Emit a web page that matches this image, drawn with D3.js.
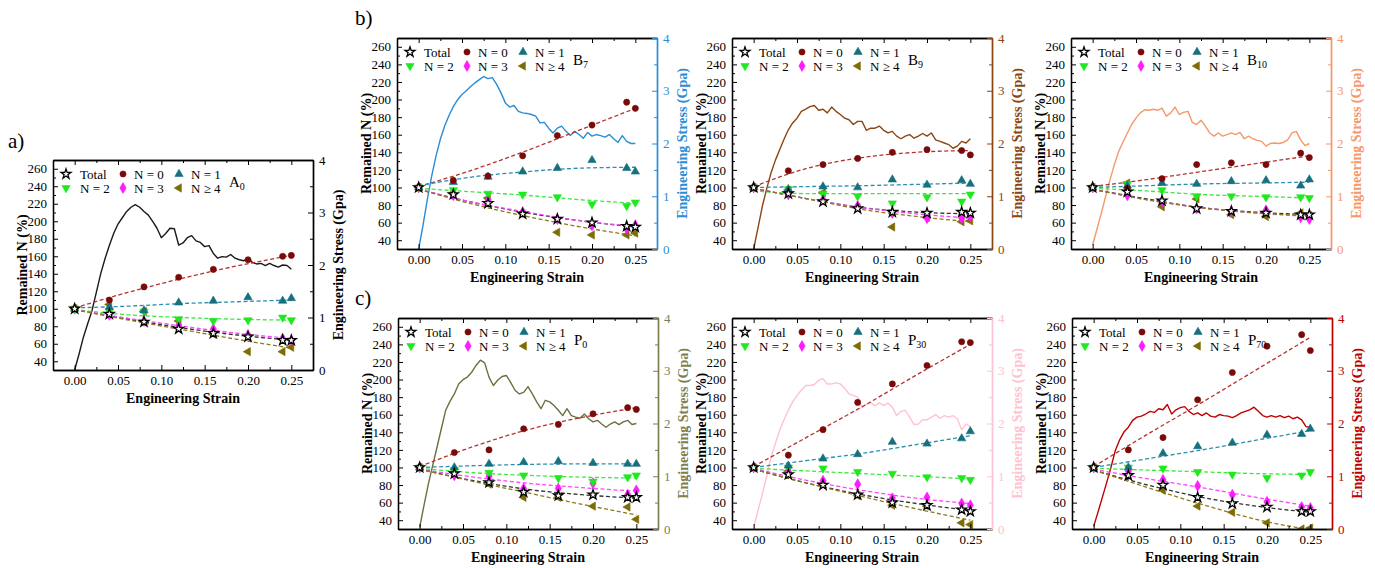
<!DOCTYPE html>
<html><head><meta charset="utf-8">
<script src="https://cdn.jsdelivr.net/npm/d3@7"></script>
<style>
html,body{margin:0;padding:0;background:#fff;}
svg, svg text{font-family:"Liberation Serif","Times New Roman",Tinos,"DejaVu Serif",serif !important;}
</style></head><body>
<svg id="chart" width="1375" height="568"></svg>
<script>
// ---------- shared categories / ticks ----------
const seriesNames = ["Total","N = 0","N = 1","N = 2","N = 3","N \u2265 4"];
const strainPts = [0,0.04,0.08,0.12,0.16,0.20,0.24,0.25];
const fitStrain = [0,0.0625,0.125,0.1875,0.25];
const stressStrain = [0,0.005,0.01,0.015,0.02,0.025,0.03,0.035,0.04,0.045,0.05,0.055,0.06,0.065,0.07,0.075,0.08,0.085,0.09,0.095,0.10,0.105,0.11,0.115,0.12,0.125,0.13,0.135,0.14,0.145,0.15,0.155,0.16,0.165,0.17,0.175,0.18,0.185,0.19,0.195,0.20,0.205,0.21,0.215,0.22,0.225,0.23,0.235,0.24,0.245,0.25];
const xTicks = [0,0.05,0.10,0.15,0.20,0.25];
const xMinor = [0.025,0.075,0.125,0.175,0.225];
const leftTicks = [40,60,80,100,120,140,160,180,200,220,240,260];
const leftMinor = [30,50,70,90,110,130,150,170,190,210,230,250];
const rightTicks = [0,1,2,3,4];
const rightMinor = [0.5,1.5,2.5,3.5];

// ---------- A0 ----------
const A0_pts = [
 [100,94,85,77,72,68,64,64],
 [100,110,125,136,145,156,160,161],
 [100,102,98,107,109,113,109,112],
 [100,97,97,88,86,87,90,87],
 [100,93,86,81,77,70,66,64],
 [100,105,97,86,71,51,51,56]];
const A0_fit = [
 [99,88,78,70,64],[101,119,135,149,161],[101,103,106,108,110],
 [99,93,90,88,87],[99,89,80,72,66],[99,87,76,65,55]];
const A0_stress = [0,0.3,0.62,0.88,1.13,1.48,1.83,2.12,2.37,2.6,2.78,2.9,3.02,3.1,3.15,3.1,3.02,2.95,2.83,2.7,2.52,2.6,2.7,2.69,2.38,2.42,2.52,2.56,2.46,2.43,2.35,2.37,2.22,2.13,2.16,2.15,2.2,2.13,2.1,2.08,2.13,2.05,2.02,2.03,1.99,2.03,1.99,1.96,2.0,1.99,1.92];

// ---------- B7 ----------
const B7_pts = [
 [100,92,82,70,64,60,56,55],
 [100,108,113,136,159,171,197,190],
 [100,106,112,118,122,131,122,118],
 [100,97,93,92,89,81,79,83],
 [100,91,86,72,64,57,53,57],
 [100,94,88,70,49,46,46,48]];
const B7_fit = [
 [98,83,71,62,55],[101,120,142,166,190],[102,112,118,122,123],
 [99,95,91,86,82],[98,83,72,62,56],[98,81,67,55,45]];
const B7_stress = [0,0.45,0.94,1.38,1.76,2.08,2.33,2.53,2.7,2.83,2.93,3.0,3.08,3.15,3.21,3.27,3.23,3.25,3.12,2.96,2.77,2.69,2.72,2.61,2.58,2.57,2.55,2.52,2.39,2.4,2.29,2.2,2.29,2.33,2.23,2.15,2.23,2.17,2.1,2.21,2.14,2.17,2.15,2.12,2.17,2.09,2.02,2.15,2.04,2.0,2.0];

// ---------- B9 ----------
const B9_pts = [
 [100,93,84,76,72,71,72,71],
 [100,119,126,133,140,143,142,137],
 [100,98,101,100,109,103,108,104],
 [100,98,93,90,82,89,84,92],
 [100,92,86,79,71,65,65,67],
 [100,97,94,77,55,66,61,62]];
const B9_fit = [
 [99,87,77,72,70],[101,122,134,140,142],[100,101,102,103.5,105],
 [96,93,93,93,93],[99,87,77,70,65],[99,87,75,67,61]];
const B9_stress = [0,0.4,0.81,1.14,1.44,1.68,1.88,2.08,2.26,2.39,2.48,2.61,2.65,2.7,2.72,2.63,2.65,2.58,2.69,2.61,2.55,2.48,2.45,2.36,2.42,2.42,2.25,2.29,2.29,2.33,2.25,2.2,2.23,2.14,2.09,2.14,2.17,2.1,2.14,2.19,2.14,2.2,2.07,2.04,2.01,1.98,1.91,1.95,2.04,2.01,2.09];

// ---------- B10 ----------
const B10_pts = [
 [100,95,85,76,73,71,69,69],
 [100,99,110,126,128,126,139,134],
 [100,102,105,104,107,108,102,109],
 [100,104,97,90,90,89,89,88],
 [100,91,84,76,73,74,66,64],
 [100,105,78,87,69,67,71,68]];
const B10_fit = [
 [98,87,77,72,69],[101,109,118,127,136],[100,102,104,105,106],
 [99,96,92,90,88],[98,86,77,71,67],[98,86,77,71,68]];
const B10_stress = [0.08,0.38,0.68,1.0,1.31,1.6,1.85,2.03,2.2,2.36,2.48,2.58,2.64,2.63,2.65,2.63,2.67,2.52,2.58,2.69,2.55,2.59,2.61,2.4,2.36,2.44,2.33,2.2,2.14,2.2,2.14,2.17,2.2,2.17,2.21,2.09,2.14,2.09,2.06,2.04,1.95,2.0,2.01,2.0,2.02,2.07,2.2,2.23,2.07,1.96,2.0];

// ---------- P0 ----------
const P0_pts = [
 [100,93,83,72,68,69,66,66],
 [100,117,120,144,149,161,168,166],
 [100,100,104,106,107,105,104,104],
 [100,97,94,91,88,84,89,91],
 [100,91,90,76,76,82,69,74],
 [100,95,81,66,66,56,55,41]];
const P0_fit = [
 [98,85,75,69,65],[101,124,143,157,168],[100,102,103.5,104,104],
 [99,94,91,89,88],[98,89,82,77,73],[98,84,71,58,46]];
const P0_stress = [0.03,0.45,0.85,1.2,1.55,1.9,2.25,2.42,2.56,2.75,2.83,2.88,2.97,3.1,3.2,3.15,2.88,2.72,2.82,2.89,2.91,2.78,2.63,2.56,2.59,2.7,2.56,2.41,2.28,2.44,2.41,2.34,2.25,2.15,2.28,2.15,2.12,2.1,2.18,2.09,2.03,2.06,1.99,1.93,1.99,2.03,1.98,2.03,2.06,1.98,2.0];

// ---------- P30 ----------
const P30_pts = [
 [100,92,80,69,60,57,52,50],
 [100,114,143,174,195,216,243,242],
 [100,102,110,115,129,127,133,141],
 [100,100,99,95,93,89,88,86],
 [100,95,85,81,65,66,59,57],
 [100,96,81,68,57,56,37,35]];
const P30_fit = [
 [98,82,69,59,51],[101,135,169,205,240],[100,108,116,126,136],
 [99,96,93,90,87],[99,85,74,65,59],[98,82,67,53,40]];
const P30_stress = [0.03,0.35,0.66,1.0,1.36,1.62,1.87,2.07,2.25,2.41,2.53,2.63,2.72,2.72,2.74,2.82,2.85,2.75,2.75,2.77,2.75,2.67,2.56,2.53,2.5,2.3,2.36,2.39,2.34,2.39,2.34,2.39,2.31,2.15,2.23,2.25,2.12,1.98,1.99,2.07,2.07,2.12,2.17,2.1,2.15,2.12,2.15,2.09,1.88,1.99,1.94];

// ---------- P70 ----------
const P70_pts = [
 [100,91,80,66,59,55,50,50],
 [100,120,134,177,208,238,251,233],
 [100,100,116,124,128,137,138,144],
 [100,100,99,95,92,88,91,95],
 [100,96,86,79,69,61,55,54],
 [100,91,74,56,49,37,30,31]];
const P70_fit = [
 [97,80,66,56,49],[101,138,174,211,248],[100,110,120,131,142],
 [99,97,95,93,92],[98,87,77,66,56],[97,77,58,41,29]];
const P70_stress = [0.05,0.32,0.6,0.88,1.17,1.49,1.69,1.84,1.93,2.06,2.12,2.14,2.18,2.23,2.21,2.28,2.26,2.36,2.18,2.26,2.3,2.32,2.23,2.17,2.2,2.15,2.2,2.14,2.12,2.17,2.15,2.14,2.11,2.15,2.2,2.23,2.26,2.31,2.23,2.15,2.12,2.15,2.12,2.15,2.11,2.14,2.09,2.12,2.07,1.94,1.93];

// ---------- styling / layout ----------
const FONT = '"Liberation Serif","Times New Roman",Tinos,"DejaVu Serif",serif';
const markerFill = ["#ffffff","#7a0a0a","#16707e","#1fe81f","#ff1aff","#7d6b05"];
const markerStroke = ["#000000","#7a0a0a","#16707e","#1fe81f","#ff1aff","#7d6b05"];
const fitColor = ["#333333","#b5332e","#2a8fae","#3de83d","#ff44ff","#8c7a1c"];
const W = 260, H = 211;

const panels = [
 {base:"A",sub:"0", pts:A0_pts, fit:A0_fit, stress:A0_stress, x:53, y:160, h:210, color:"#1a1a1a", axis:"#000000"},
 {base:"B",sub:"7", pts:B7_pts, fit:B7_fit, stress:B7_stress, x:397, y:38, h:211, color:"#2a8dd6", axis:"#2a8dd6"},
 {base:"B",sub:"9", pts:B9_pts, fit:B9_fit, stress:B9_stress, x:732, y:38, h:211, color:"#8b4513", axis:"#8b4513"},
 {base:"B",sub:"10", pts:B10_pts, fit:B10_fit, stress:B10_stress, x:1071, y:38, h:211, color:"#f5986a", axis:"#f5986a"},
 {base:"P",sub:"0", pts:P0_pts, fit:P0_fit, stress:P0_stress, x:398, y:318, h:211, color:"#6e6f40", axis:"#7e7f50"},
 {base:"P",sub:"30", pts:P30_pts, fit:P30_fit, stress:P30_stress, x:732, y:318, h:211, color:"#ffc2d0", axis:"#ffc2d0"},
 {base:"P",sub:"70", pts:P70_pts, fit:P70_fit, stress:P70_stress, x:1072, y:318, h:211, color:"#c00000", axis:"#c00000"}
];

const svg = d3.select("#chart");
svg.append("rect").attr("width",1375).attr("height",568).attr("fill","#fff");

function symbolFor(i){
  const S = [d3.symbolStar, d3.symbolCircle, d3.symbolTriangle, d3.symbolTriangle, d3.symbolDiamond, d3.symbolTriangle];
  const sz = [30, 30, 30, 30, 34, 30];
  return d3.symbol().type(S[i]).size(sz[i])();
}
const rot = [0,0,0,180,0,-90];

function drawMarker(sel, i, cx, cy){
  sel.append("path").attr("d", symbolFor(i))
    .attr("transform", `translate(${cx},${cy}) rotate(${rot[i]})`)
    .attr("fill", markerFill[i]).attr("stroke", markerStroke[i])
    .attr("stroke-width", i===0 ? 1.3 : 0.6);
}

panels.forEach((p, pi) => {
  const h = p.h;
  const g = svg.append("g").attr("transform", `translate(${p.x},${p.y})`);
  const x = d3.scaleLinear().domain([-0.025,0.275]).range([0,W]);
  const yL = d3.scaleLinear().domain([30,270]).range([h,0]);
  const yR = d3.scaleLinear().domain([0,4]).range([h,0]);

  const cid = "clip"+pi;
  g.append("clipPath").attr("id",cid).append("rect").attr("width",W).attr("height",h);
  const plot = g.append("g").attr("clip-path",`url(#${cid})`);

  plot.append("path")
    .datum(stressStrain.map((s,k)=>[s,p.stress[k]]))
    .attr("fill","none").attr("stroke",p.color).attr("stroke-width",1.4)
    .attr("stroke-linejoin","round")
    .attr("d", d3.line().x(d=>x(d[0])).y(d=>yR(d[1])));

  p.fit.forEach((f,i) => {
    plot.append("path")
      .datum(fitStrain.map((s,k)=>[s,f[k]]))
      .attr("fill","none").attr("stroke",fitColor[i]).attr("stroke-width",1.3)
      .attr("stroke-dasharray","4,2.5")
      .attr("d", d3.line().curve(d3.curveMonotoneX).x(d=>x(d[0])).y(d=>yL(d[1])));
  });

  [5,4,3,2,1,0].forEach(i => {
    p.pts[i].forEach((v,k) => {
      if (v < 28) return;
      drawMarker(plot, i, x(strainPts[k]), yL(v));
    });
  });

  g.append("g").attr("transform",`translate(0,${h})`)
    .call(d3.axisBottom(x).tickValues(xTicks).tickSizeInner(-5).tickSizeOuter(0).tickPadding(6).tickFormat(d3.format(".2f")));
  g.append("g").attr("transform",`translate(0,${h})`)
    .call(d3.axisBottom(x).tickValues(xMinor).tickSizeInner(-3).tickSizeOuter(0).tickFormat(""));
  g.append("g")
    .call(d3.axisTop(x).tickValues(xTicks).tickSizeInner(-5).tickSizeOuter(0).tickFormat(""));
  g.append("g").call(d3.axisTop(x).tickValues(xMinor).tickSizeInner(-3).tickSizeOuter(0).tickFormat(""));
  g.append("g")
    .call(d3.axisLeft(yL).tickValues(leftTicks).tickSizeInner(-5).tickSizeOuter(0).tickPadding(6));
  g.append("g").call(d3.axisLeft(yL).tickValues(leftMinor).tickSizeInner(-3).tickSizeOuter(0).tickFormat(""));
  const axR = g.append("g").attr("transform",`translate(${W},0)`)
    .call(d3.axisRight(yR).tickValues(rightTicks).tickSizeInner(-5).tickSizeOuter(0).tickPadding(6).tickFormat(d3.format("d")));
  const axRm = g.append("g").attr("transform",`translate(${W},0)`)
    .call(d3.axisRight(yR).tickValues(rightMinor).tickSizeInner(-3).tickSizeOuter(0).tickFormat(""));

  g.selectAll("g").attr("font-family",null);
  g.selectAll(".domain").attr("stroke","#000").attr("stroke-width",1.3);
  g.selectAll(".tick line").attr("stroke","#000").attr("stroke-width",1);
  g.selectAll("text").attr("font-size","13px").attr("fill","#000");
  [axR, axRm].forEach(a => {
    a.select(".domain").attr("stroke",p.axis).attr("stroke-width",1.4);
    a.selectAll(".tick line").attr("stroke",p.axis);
    a.selectAll("text").attr("fill",p.axis);
  });

  g.append("text").attr("transform",`translate(-31,${h/2}) rotate(-90)`)
    .attr("text-anchor","middle").attr("dy","0.35em")
    .attr("font-size","14px").attr("font-weight","bold").text("Remained N (%)");
  g.append("text").attr("transform",`translate(${W+25},${h/2}) rotate(-90)`)
    .attr("text-anchor","middle").attr("dy","0.35em").attr("fill",p.axis)
    .attr("font-size","14px").attr("font-weight","bold").text("Engineering Stress (Gpa)");
  g.append("text").attr("x",W/2).attr("y",h+33)
    .attr("text-anchor","middle").attr("font-size","14px").attr("font-weight","bold").text("Engineering Strain");

  const mx = [13,70,126], tx = [27,81,138], ry = [14,28];
  seriesNames.forEach((n,i) => {
    const c = i%3, r = Math.floor(i/3);
    drawMarker(g, i, mx[c], ry[r]);
    g.append("text").attr("x",tx[c]).attr("y",ry[r]).attr("dy","0.35em")
      .attr("font-size","13px").text(n);
  });
  const lbl = g.append("text").attr("x",176).attr("y",27).attr("font-size","15px");
  lbl.append("tspan").text(p.base);
  lbl.append("tspan").attr("dy",3).attr("font-size","10px").text(p.sub);
});

const groupLetters = [["a)",8,148],["b)",355,25],["c)",355,305]];
groupLetters.forEach(l => {
  svg.append("text").attr("x",l[1]).attr("y",l[2]).attr("font-size","21px").text(l[0]);
});
svg.selectAll("text").style("font-family", FONT);
</script>
</body></html>
